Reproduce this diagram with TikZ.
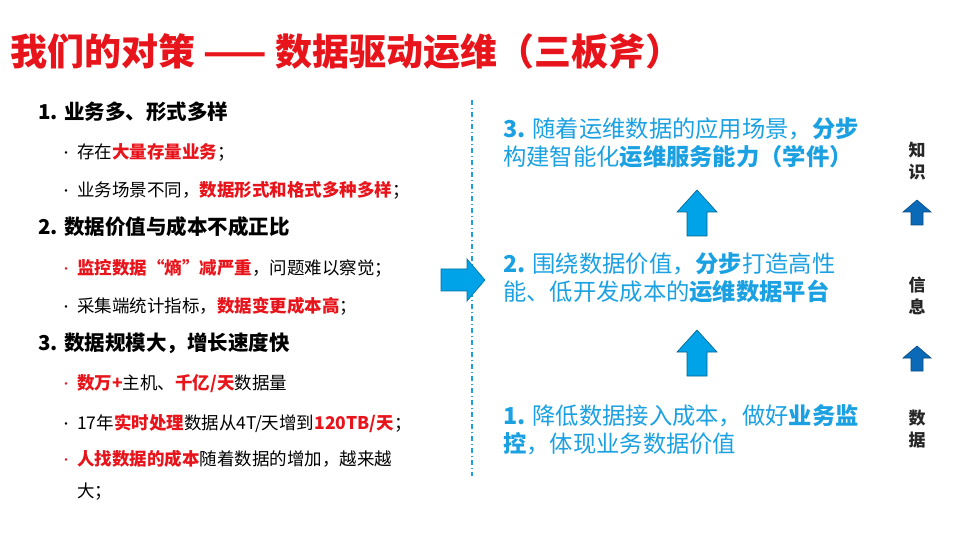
\documentclass[tikz,border=0pt]{standalone}
\usepackage{fontspec}
\setmainfont{Noto Sans CJK SC}
\definecolor{myred}{HTML}{E8141B}
\definecolor{myblue}{HTML}{1BA1E2}
\definecolor{arrblue}{HTML}{00A3E8}
\definecolor{darkblue}{HTML}{0A6AB8}
\begin{document}
\begin{tikzpicture}[x=1pt,y=-1pt,
  head/.style={anchor=west,font=\fontsize{20.5}{24}\selectfont\bfseries,inner sep=0},
  item/.style={anchor=west,font=\fontsize{17.5}{20}\selectfont,inner sep=0},
  rt/.style={anchor=north west,align=left,text=myblue,font=\fontsize{23.3}{28}\selectfont,inner sep=0},
  side/.style={align=center,font=\fontsize{17}{22}\selectfont\bfseries,text=black!85,inner sep=0}]
\useasboundingbox (0,0) rectangle (959,540);
\newcommand{\R}[1]{\textcolor{myred}{\bfseries #1}}
\newcommand{\B}[1]{\textbf{#1}}
\newcommand{\bul}{\makebox[17pt][l]{\raisebox{1pt}{\fontsize{12}{12}\selectfont\textbullet}}}
\node[anchor=west,inner sep=0,text=myred,font=\fontsize{37}{40}\selectfont\bfseries] (title) at (10,52) {我们的对策 —— 数据驱动运维（三板斧）};
% left
\node[head] (h1) at (38,112) {1. 业务多、形式多样};
\node[item] (i1) at (60,152) {\bul 存在\R{大量存量业务}；};
\node[item] (i2) at (60,190) {\bul 业务场景不同，\R{数据形式和格式多种多样}；};
\node[head] (h2) at (38,227) {2. 数据价值与成本不成正比};
\node[item] (i3) at (60,268) {\textcolor{myred}{\bul}\R{监控数据“熵”减严重}，问题难以察觉；};
\node[item] (i4) at (60,306) {\bul 采集端统计指标，\R{数据变更成本高}；};
\node[head] (h3) at (38,343) {3. 数据规模大，增长速度快};
\node[item] (i5) at (60,384) {\textcolor{myred}{\bul}\R{数万+}主机、\R{千亿/天}数据量};
\node[item] (i6) at (60,423) {\bul 17年\R{实时处理}数据从4T/天增到\R{120TB/天}；};
\node[item,anchor=north west,align=left,font=\fontsize{17.5}{32}\selectfont] (i7) at (60,450) {\textcolor{myred}{\bul}\R{人找数据的成本}随着数据的增加，越来越\\\hspace{17pt}大；};
% divider
\draw[myblue,line width=1.2pt,dash pattern=on 5pt off 3pt on 1pt off 3pt] (472,100) -- (472,476);
% big right arrow
\draw[fill=arrblue,draw=arrblue!70!black,line width=0.6pt] (441,269)--(467,269)--(467,259)--(485,280)--(467,301)--(467,291)--(441,291)--cycle;
% right texts
\node[rt] (t3) at (503,117) {\B{3.} 随着运维数据的应用场景，\B{分步}\\构建智能化\B{运维服务能力（学件）}};
\node[rt] (t2) at (503,252) {\B{2.} 围绕数据价值，\B{分步}打造高性\\能、低开发成本的\B{运维数据平台}};
\node[rt] (t1) at (503,404) {\B{1.} 降低数据接入成本，做好\B{业务监}\\\B{控}，体现业务数据价值};
% up arrows
\foreach \t in {190,330}{
\draw[fill=arrblue,draw=arrblue!60!black,line width=0.6pt] (687,\t+46)--(687,\t+22)--(677,\t+22)--(697,\t)--(717,\t+22)--(707,\t+22)--(707,\t+46)--cycle;}
\foreach \t in {200,346}{
\draw[fill=darkblue,draw=darkblue!70!black,line width=0.6pt] (911,\t+25)--(911,\t+12)--(903,\t+12)--(917,\t)--(931,\t+12)--(923,\t+12)--(923,\t+25)--cycle;}
\node[side] (s3) at (917,161) {知\\识};
\node[side] (s2) at (917,296) {信\\息};
\node[side] (s1) at (917,429) {数\\据};
\end{tikzpicture}
\end{document}
